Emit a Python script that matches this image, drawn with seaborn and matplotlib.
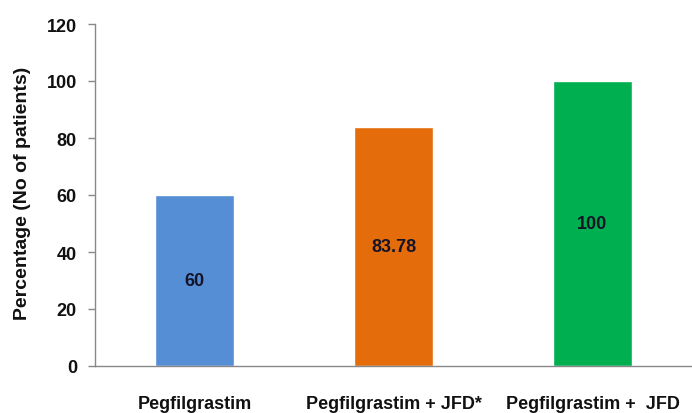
import matplotlib
matplotlib.use("Agg")
import matplotlib.pyplot as plt
import seaborn as sns
import pandas as pd

# Response rates per treatment arm
categories = ["Pegfilgrastim", "Pegfilgrastim + JFD*", "Pegfilgrastim +  JFD"]
percentages = [60, 83.78, 100]
value_labels = ["60", "83.78", "100"]
bar_colors = ["#558ED5", "#E46C0A", "#00B050"]
y_ticks = [0, 20, 40, 60, 80, 100, 120]

sns.set_style("white")
plt.rcParams["font.family"] = ["Liberation Sans", "DejaVu Sans"]
plt.rcParams["font.weight"] = "bold"

df = pd.DataFrame({"group": categories, "pct": percentages})

fig = plt.figure(figsize=(6.92, 4.14), dpi=100)
ax = fig.add_axes([95 / 692, 47 / 414, 597 / 692, 342 / 414])

sns.barplot(data=df, x="group", y="pct", hue="group", palette=bar_colors,
            width=0.4, legend=False, ax=ax, saturation=1)

# value printed in the middle of each bar
for i, (v, lab) in enumerate(zip(percentages, value_labels)):
    ax.text(i, v / 2, lab, ha="center", va="center", fontsize=13,
            fontweight="bold", color="#141428")

ax.set_xlim(-0.5, 2.47)
ax.set_ylim(0, 120)
ax.set_yticks(y_ticks)
ax.set_yticklabels([str(t) for t in y_ticks], fontsize=13, fontweight="bold", color="#111111")

ax.set_xticks(range(len(categories)))
ax.set_xticklabels(categories, fontsize=13, fontweight="bold", color="#111111")
ax.set_xticks([-0.5, 0.5, 1.5, 2.5], minor=True)
ax.tick_params(axis="x", which="major", length=0, pad=21)
ax.tick_params(axis="x", which="minor", length=5, width=1, color="#888888", direction="out")
ax.tick_params(axis="y", which="major", length=5, width=1, color="#888888",
               direction="out", pad=8, left=True)

ax.set_xlabel("")
ax.set_ylabel("Percentage (No of patients)", fontsize=14, fontweight="bold",
              color="#111111", va="center")
ax.yaxis.set_label_coords(-72.5 / 597, 0.509)

for side in ["top", "right"]:
    ax.spines[side].set_visible(False)
for side in ["left", "bottom"]:
    ax.spines[side].set_color("#888888")
    ax.spines[side].set_linewidth(1)

fig.savefig("out.png", dpi=100)
